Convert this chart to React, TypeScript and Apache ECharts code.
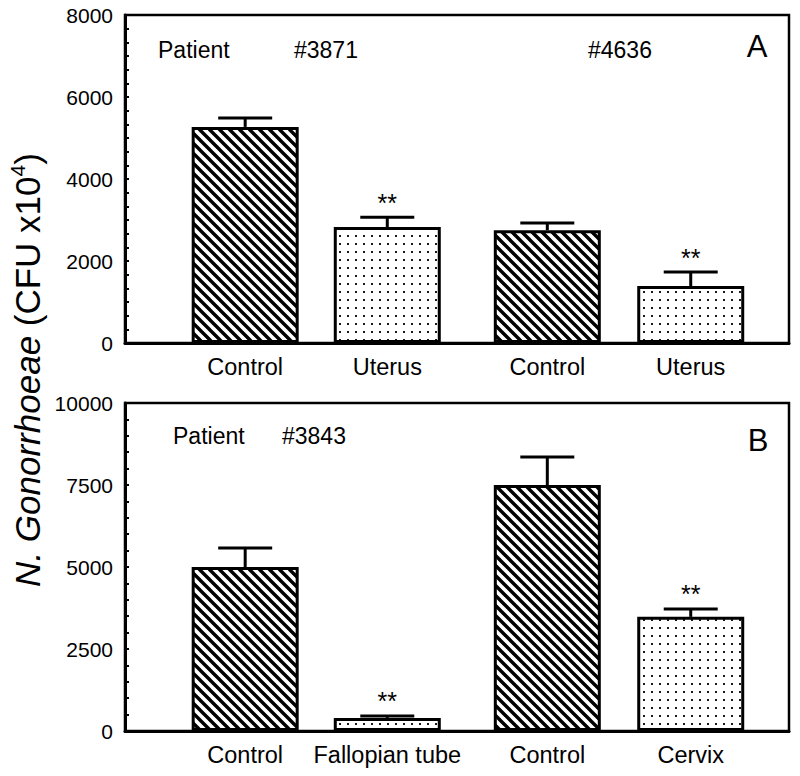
import React, { useEffect, useRef } from "react";
import * as echarts from "echarts";

// ---- data ----
const xPositions = [1.81, 3.95, 6.36, 8.52];

const categoriesA = ["Control", "Uterus", "Control", "Uterus"];
const valuesA = [5270, 2830, 2750, 1390];
const errorsA = [220, 240, 175, 340];
const signifA = [false, true, false, true];
const patternsA = ["hatch", "dots", "hatch", "dots"];
const ticksA = { min: 0, max: 8000, interval: 2000 };

const categoriesB = ["Control", "Fallopian tube", "Control", "Cervix"];
const valuesB = [5000, 400, 7500, 3480];
const errorsB = [580, 60, 850, 240];
const signifB = [false, true, false, true];
const patternsB = ["hatch", "dots", "hatch", "dots"];
const ticksB = { min: 0, max: 10000, interval: 2500 };

const FONT = "'Liberation Sans', Arial, Helvetica, sans-serif";

const hatchSvg =
  "<svg xmlns='http://www.w3.org/2000/svg' width='10' height='10'>" +
  "<rect width='10' height='10' fill='white'/>" +
  "<path d='M-2,-2 L12,12 M-2,8 L2,12 M8,-2 L12,2' stroke='black' stroke-width='3.4'/></svg>";
const dotsSvg =
  "<svg xmlns='http://www.w3.org/2000/svg' width='8' height='8'>" +
  "<rect width='8' height='8' fill='white'/>" +
  "<rect x='3' y='3' width='2' height='2' fill='#1a1a1a'/></svg>";

const toUrl = (s: string) => "data:image/svg+xml;charset=utf-8," + encodeURIComponent(s);

const patternFor = (kind: string) =>
  kind === "hatch"
    ? { image: toUrl(hatchSvg), repeat: "repeat", imageWidth: 10, imageHeight: 10 }
    : { image: toUrl(dotsSvg), repeat: "repeat", imageWidth: 8, imageHeight: 8 };

function panelSeries(
  idx: number,
  values: number[],
  errors: number[],
  signif: boolean[],
  patterns: string[]
) {
  const bar = {
    type: "bar",
    xAxisIndex: idx,
    yAxisIndex: idx,
    barWidth: 107,
    silent: true,
    data: values.map((v, i) => ({
      value: [xPositions[i], v],
      itemStyle: {
        color: patternFor(patterns[i]) as any,
        borderColor: "#000",
        borderWidth: 3,
      },
    })),
  };
  const err = {
    type: "custom",
    xAxisIndex: idx,
    yAxisIndex: idx,
    silent: true,
    z: 5,
    data: values.map((v, i) => [xPositions[i], v, errors[i], signif[i] ? 1 : 0]),
    renderItem: (params: any, api: any) => {
      const x = api.value(0);
      const v = api.value(1);
      const e = api.value(2);
      const s = api.value(3);
      const p0 = api.coord([x, v]);
      const p1 = api.coord([x, v + e]);
      const children: any[] = [
        {
          type: "line",
          shape: { x1: p0[0], y1: p0[1], x2: p1[0], y2: p1[1] },
          style: { stroke: "#000", lineWidth: 3 },
        },
        {
          type: "line",
          shape: { x1: p1[0] - 27, y1: p1[1], x2: p1[0] + 27, y2: p1[1] },
          style: { stroke: "#000", lineWidth: 3 },
        },
      ];
      if (s) {
        children.push({
          type: "text",
          x: p1[0],
          y: p1[1] - 2,
          style: {
            text: "**",
            fontSize: 25,
            fontFamily: FONT,
            fill: "#000",
            align: "center",
            verticalAlign: "bottom",
          },
        });
      }
      return { type: "group", children };
    },
  };
  return [bar, err];
}

function xAxisFor(idx: number, cats: string[]) {
  return {
    type: "value",
    gridIndex: idx,
    min: 0,
    max: 10,
    axisLine: { show: true, onZero: false, lineStyle: { color: "#000", width: 3 } },
    axisTick: { show: false },
    splitLine: { show: false },
    axisLabel: {
      show: true,
      customValues: xPositions,
      formatter: (val: number) => {
        const i = xPositions.findIndex((p) => Math.abs(p - val) < 1e-6);
        return i >= 0 ? cats[i] : "";
      },
      color: "#000",
      fontSize: 23.5,
      fontFamily: FONT,
      margin: 12,
    },
  };
}

function yAxisFor(idx: number, t: { min: number; max: number; interval: number }, minorSplit: number) {
  return {
    type: "value",
    gridIndex: idx,
    min: t.min,
    max: t.max,
    interval: t.interval,
    axisLine: { show: true, lineStyle: { color: "#000", width: 3 } },
    axisTick: { show: true, inside: true, length: 4, lineStyle: { color: "#000", width: 2 } },
    minorTick: { show: true, splitNumber: minorSplit, length: 4, lineStyle: { color: "#000", width: 2 } },
    splitLine: { show: false },
    axisLabel: {
      color: "#000",
      fontSize: 21,
      fontFamily: FONT,
      margin: 12,
      formatter: (v: number) => String(v),
    },
  };
}

export default function App() {
  const ref = useRef<HTMLDivElement>(null);
  useEffect(() => {
    if (!ref.current) return;
    const chart = echarts.init(ref.current, null, { renderer: "svg" });
    const txt = (text: string, x: number, y: number, size: number, align = "left") => ({
      type: "text",
      x,
      y,
      silent: true,
      style: {
        text,
        fontSize: size,
        fontFamily: FONT,
        fill: "#000",
        align,
        verticalAlign: "middle",
      },
    });
    chart.setOption({
      animation: false,
      backgroundColor: "#fff",
      grid: [
        { left: 125, top: 15, width: 664, height: 328, show: true, borderColor: "#000", borderWidth: 2.5 },
        { left: 125, top: 403, width: 664, height: 328, show: true, borderColor: "#000", borderWidth: 2.5 },
      ],
      xAxis: [xAxisFor(0, categoriesA), xAxisFor(1, categoriesB)],
      yAxis: [yAxisFor(0, ticksA, 6), yAxisFor(1, ticksB, 5)],
      series: [
        ...panelSeries(0, valuesA, errorsA, signifA, patternsA),
        ...panelSeries(1, valuesB, errorsB, signifB, patternsB),
      ],
      graphic: [
        txt("Patient", 158, 50, 23),
        txt("#3871", 294, 50, 23),
        txt("#4636", 588, 50, 23),
        txt("A", 757, 46, 31, "center"),
        txt("Patient", 173, 436, 23),
        txt("#3843", 282, 436, 23),
        txt("B", 758, 440, 31, "center"),
        {
          type: "text",
          x: 27,
          y: 370,
          rotation: Math.PI / 2,
          silent: true,
          style: {
            text: "{it|N. Gonorrhoeae}{n| (CFU x10}{sup|4}{n|)}",
            fontFamily: FONT,
            fill: "#000",
            align: "center",
            verticalAlign: "middle",
            rich: {
              it: { fontStyle: "italic", fontSize: 35, fontFamily: FONT, lineHeight: 40 },
              n: { fontSize: 35, fontFamily: FONT, lineHeight: 40 },
              sup: { fontSize: 21, fontFamily: FONT, verticalAlign: "top", lineHeight: 40 },
            },
          },
        },
      ],
    });
    return () => chart.dispose();
  }, []);
  return (
    <div
      ref={ref}
      style={{ position: "fixed", left: 0, top: 0, width: 800, height: 776, background: "#fff" }}
    />
  );
}
